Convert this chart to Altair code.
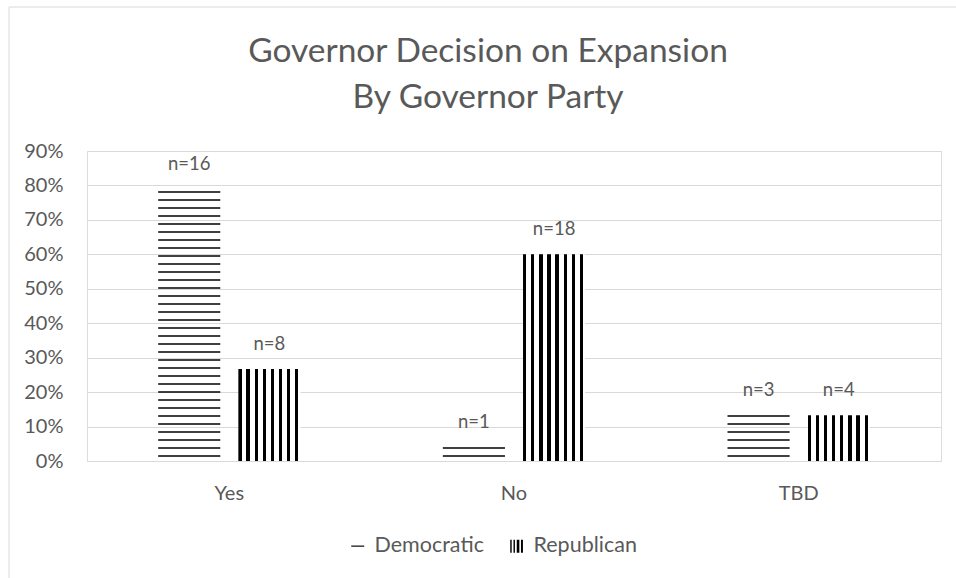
import altair as alt
import pandas as pd

# Share of governors by decision, per governor party
decisions = ["Yes", "No", "TBD"]
parties = ["Democratic", "Republican"]
dem_share = [0.79, 0.04, 0.133]
rep_share = [0.267, 0.60, 0.133]
dem_n = [16, 1, 3]
rep_n = [8, 18, 4]

TEXT = "#595959"
GRID = "#d9d9d9"
FONT = "Lato"
Y_MAX = 0.9
PLOT_W, PLOT_H = 854, 310
PAD_L, PAD_T = 87, 151
FRAME_TOP = 7 - PAD_T

rows = []
for i, d in enumerate(decisions):
    rows.append({"decision": d, "party": "Democratic", "share": dem_share[i], "label": f"n={dem_n[i]}"})
    rows.append({"decision": d, "party": "Republican", "share": rep_share[i], "label": f"n={rep_n[i]}"})
df = pd.DataFrame(rows)

# Horizontal hatch lines for the Democratic bars (8px period, clipped to bar height)
px = Y_MAX / PLOT_H
hatch_step, hatch_start, hatch_thick = 8 * px, 5 * px, 1.7 * px
hatch = []
for d, v in zip(decisions, dem_share):
    lvl = hatch_start
    while lvl - hatch_thick / 2 <= v:
        hatch.append({"decision": d, "party": "Democratic",
                      "y0": lvl - hatch_thick / 2, "y1": min(lvl + hatch_thick / 2, v)})
        lvl += hatch_step
hatch_df = pd.DataFrame(hatch)

# Vertical hatch fill for the Republican bars, as a hard-edged gradient
BAR_W = 62
stops = []
pos = 0.0
while pos < BAR_W - 1:
    a, b = pos / BAR_W, min((pos + 3.3) / BAR_W, 1.0)
    stops += [alt.GradientStop(offset=a, color="white"), alt.GradientStop(offset=a, color="black"),
              alt.GradientStop(offset=b, color="black"), alt.GradientStop(offset=b, color="white")]
    pos += 8.1
stops.append(alt.GradientStop(offset=1.0, color="white"))
vhatch = alt.LinearGradient(gradient="linear", stops=stops, x1=0, x2=1, y1=0, y2=0)

x_enc = alt.X("decision:N", sort=decisions,
              scale=alt.Scale(domain=decisions, paddingInner=0.5, paddingOuter=0.25),
              axis=alt.Axis(title=None, labelAngle=0, domain=False, ticks=False, labelPadding=22,
                            labelFontSize=20, labelColor=TEXT, labelFont=FONT))
xo_enc = alt.XOffset("party:N", scale=alt.Scale(domain=parties, paddingInner=0.225, paddingOuter=0))
y_scale = alt.Scale(domain=[0, Y_MAX], nice=False)
y_axis = alt.Axis(title=None, format=".0%", tickCount=10, domain=False, ticks=False, labelPadding=24,
                  labelFontSize=20, labelColor=TEXT, labelFont=FONT, gridColor=GRID, gridWidth=1)

base = alt.Chart(df)

rep_bars = base.transform_filter(alt.datum.party == "Republican").mark_bar(fill=vhatch).encode(
    x=x_enc, xOffset=xo_enc, y=alt.Y("share:Q", scale=y_scale, axis=y_axis))

dem_lines = alt.Chart(hatch_df).mark_bar(color="black").encode(
    x=x_enc, xOffset=xo_enc, y=alt.Y("y0:Q", scale=y_scale, axis=y_axis), y2="y1:Q")

labels = base.mark_text(baseline="alphabetic", dy=-19, fontSize=18.5, font=FONT, color=TEXT).encode(
    x=x_enc, xOffset=xo_enc, y=alt.Y("share:Q", scale=y_scale, axis=y_axis), text="label:N")

dem_sym = "M-1,-0.09H1V0.09H-1Z"
rep_sym = "M-1,-1H-0.78V1H-1Z M-0.5,-1H-0.28V1H-0.5Z M0,-1H0.4V1H0Z M0.65,-1H0.95V1H0.65Z"
legend_pts = base.mark_point(filled=True, opacity=0, color="black").encode(
    x=x_enc, xOffset=xo_enc, y=alt.Y("share:Q", scale=y_scale, axis=y_axis),
    shape=alt.Shape("party:N", scale=alt.Scale(domain=parties, range=[dem_sym, rep_sym]),
                    legend=alt.Legend(title=None, orient="none", direction="horizontal",
                                      legendX=260, legendY=384, symbolSize=169, symbolOpacity=1,
                                      symbolFillColor="black", symbolStrokeWidth=0,
                                      labelFontSize=21.5, labelColor=TEXT,
                                      labelFont=FONT, labelOffset=6, columnPadding=22)))

frame = alt.Chart(pd.DataFrame({"f": [0]})).mark_rect(fillOpacity=0, stroke=GRID, strokeWidth=1).encode(
    x=alt.value(9 - PAD_L), x2=alt.value(980 - PAD_L), y=alt.value(FRAME_TOP), y2=alt.value(600 - PAD_T))

chart = alt.layer(frame, rep_bars, dem_lines, labels, legend_pts).properties(
    width=PLOT_W, height=PLOT_H,
    autosize=alt.AutoSizeParams(type="none"),
    padding={"left": PAD_L, "top": PAD_T, "right": 956 - PAD_L - PLOT_W, "bottom": 578 - PAD_T - PLOT_H},
    title=alt.TitleParams(text=["Governor Decision on Expansion", "By Governor Party"], fontSize=33.5,
                          font=FONT, color=TEXT, fontWeight="normal", anchor="middle", dx=-26,
                          offset=FRAME_TOP + 35, lineHeight=46),
).configure_view(stroke=None).configure(background="white")

chart.save("out.html", embed_options={"renderer": "svg", "actions": False})
